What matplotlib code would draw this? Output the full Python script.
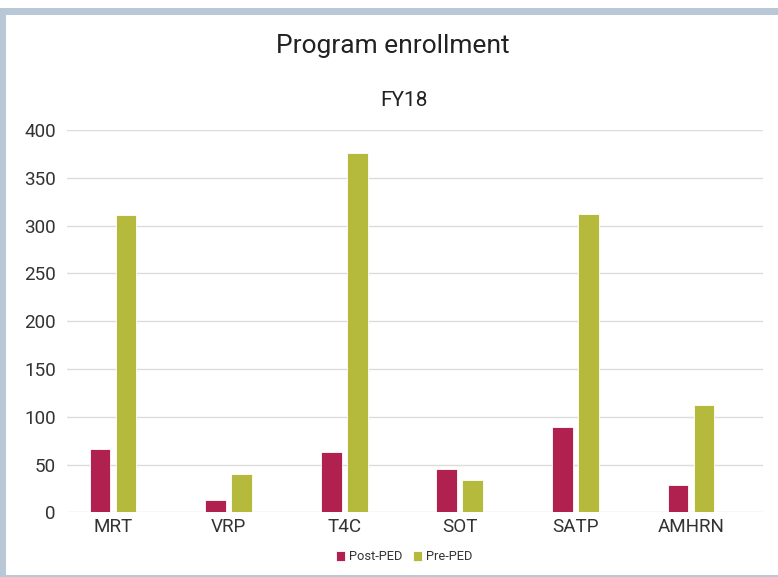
import matplotlib.pyplot as plt
import numpy as np
from matplotlib.patches import Rectangle

plt.rcParams["font.family"] = ["Roboto", "DejaVu Sans"]

# Data
programs = ["MRT", "VRP", "T4C", "SOT", "SATP", "AMHRN"]
post_ped = [66, 13, 63, 45, 89, 29]
pre_ped = [311, 40, 376, 34, 312, 112]
y_ticks = [0, 50, 100, 150, 200, 250, 300, 350, 400]

post_color = "#b0214f"
pre_color = "#b5b93c"
border_color = "#b9c8d7"
text_color = "#333333"

W, H = 778, 577
fig = plt.figure(figsize=(W / 100, H / 100), dpi=100)

# Frame: grey-blue border with white panel inside
fig.patches.append(Rectangle((0, 0), 1, 1 - 8 / H, transform=fig.transFigure,
                             facecolor=border_color, edgecolor="none", zorder=-10))
fig.patches.append(Rectangle((6 / W, 2 / H), 1, 1 - 17 / H, transform=fig.transFigure,
                             facecolor="white", edgecolor="none", zorder=-9))

ax = fig.add_axes([67 / W, 1 - 512.3 / H, (763 - 67) / W, (512.3 - 130) / H])
ax.set_facecolor("none")

x = np.arange(len(programs))
width = 0.18
gap = 0.045
ax.bar(x - (width + gap) / 2, post_ped, width, color=post_color,
       edgecolor="white", linewidth=0.6, label="Post-PED", zorder=3)
ax.bar(x + (width + gap) / 2, pre_ped, width, color=pre_color,
       edgecolor="white", linewidth=0.6, label="Pre-PED", zorder=3)

# category centres sit a bit left of the gridline span in the reference
ax.set_xlim(-0.398, len(programs) - 1 + 0.623)
ax.set_ylim(0, 400)
ax.set_yticks(y_ticks)
ax.set_xticks(x)
ax.set_xticklabels(programs)
ax.tick_params(axis="both", length=0, labelsize=13.6, colors=text_color)
ax.tick_params(axis="y", pad=8)
ax.tick_params(axis="x", pad=4)
ax.grid(axis="y", color="#dcdcdc", linewidth=1, zorder=0)
for s in ax.spines.values():
    s.set_visible(False)

fig.text(393 / W, 1 - 46 / H, "Program enrollment", ha="center", va="center",
         fontsize=19, color="#222222")
fig.text(404 / W, 1 - 101 / H, "FY18", ha="center", va="center",
         fontsize=15, color="#222222")

fig.legend(loc="center", bbox_to_anchor=(404 / W, 1 - 557 / H), ncol=2,
           frameon=False, fontsize=9.3, handlelength=0.7, handleheight=0.7,
           handletextpad=0.3, columnspacing=0.8, labelcolor=text_color)

fig.savefig("out.png", dpi=100)
